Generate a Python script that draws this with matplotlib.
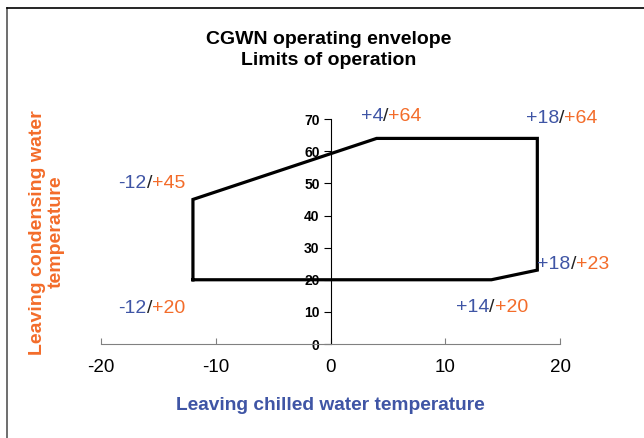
import matplotlib.pyplot as plt
from matplotlib.lines import Line2D

plt.rcParams['font.family'] = ['Liberation Sans', 'DejaVu Sans']
plt.rcParams['axes.unicode_minus'] = False

# envelope corners (chilled water, condensing water)
env_x = [-12, -12, 4, 18, 18, 14, -12]
env_y = [20, 45, 64, 64, 23, 20, 20]

# corner labels: (chilled, condensing, label x, label y)
lab_cw = ['-12', '-12', '+4', '+18', '+18', '+14']
lab_cd = ['+45', '+20', '+64', '+64', '+23', '+20']
lab_x = [-18.5, -18.5, 2.6, 17.0, 18.0, 10.9]
lab_y = [50.0, 11.0, 70.7, 70.1, 24.6, 11.3]

blue = '#3F55A5'
orange = '#F36C2A'

fig = plt.figure(figsize=(6.44, 4.38), dpi=100)
ax = fig.add_axes([0.157, 0.2146, 0.713, 0.5134])

ax.plot(env_x, env_y, color='black', lw=2.3, solid_joinstyle='miter', zorder=3)

ax.set_xlim(-20, 20)
ax.set_ylim(0, 70)
ax.set_xticks([-20, -10, 0, 10, 20])
ax.set_yticks(range(0, 71, 10))

ax.spines['left'].set_position(('data', 0))
ax.spines['right'].set_visible(False)
ax.spines['top'].set_visible(False)
ax.spines['bottom'].set_color('#808080')
ax.spines['left'].set_color('black')
ax.tick_params(axis='x', direction='in', length=4, color='#808080', labelsize=13.5, pad=11)
ax.tick_params(axis='y', direction='out', length=5, color='black', labelsize=10, pad=3)
for t in ax.get_yticklabels():
    t.set_fontweight('bold')

ax.set_xlabel('Leaving chilled water temperature', color=blue, fontsize=13.8,
              fontweight='bold', labelpad=15)
fig.text(0.073, 0.47, 'Leaving condensing water\ntemperature', color=orange,
         fontsize=14, fontweight='bold', rotation=90, ha='center', va='center',
         multialignment='center', linespacing=1.15)

fig.text(0.51, 0.93, 'CGWN operating envelope\nLimits of operation', ha='center',
         va='top', fontsize=14, fontweight='bold', linespacing=1.3)

for cw, cd, x, y in zip(lab_cw, lab_cd, lab_x, lab_y):
    t1 = ax.text(x, y, cw, color=blue, fontsize=14, ha='left', va='center')
    t2 = ax.annotate('/', xy=(1, 0), xycoords=t1, color='#222222', fontsize=14,
                     ha='left', va='bottom')
    ax.annotate(cd, xy=(1, 0), xycoords=t2, color=orange, fontsize=14,
                ha='left', va='bottom')

# chart frame (only top and left edges visible)
fig.add_artist(Line2D([7 / 644, 7 / 644], [0, 1 - 8 / 438], transform=fig.transFigure,
                      color='#555555', lw=1.2))
fig.add_artist(Line2D([7 / 644, 1], [1 - 8 / 438, 1 - 8 / 438], transform=fig.transFigure,
                      color='black', lw=1.2))

fig.savefig('out.png', dpi=100)
